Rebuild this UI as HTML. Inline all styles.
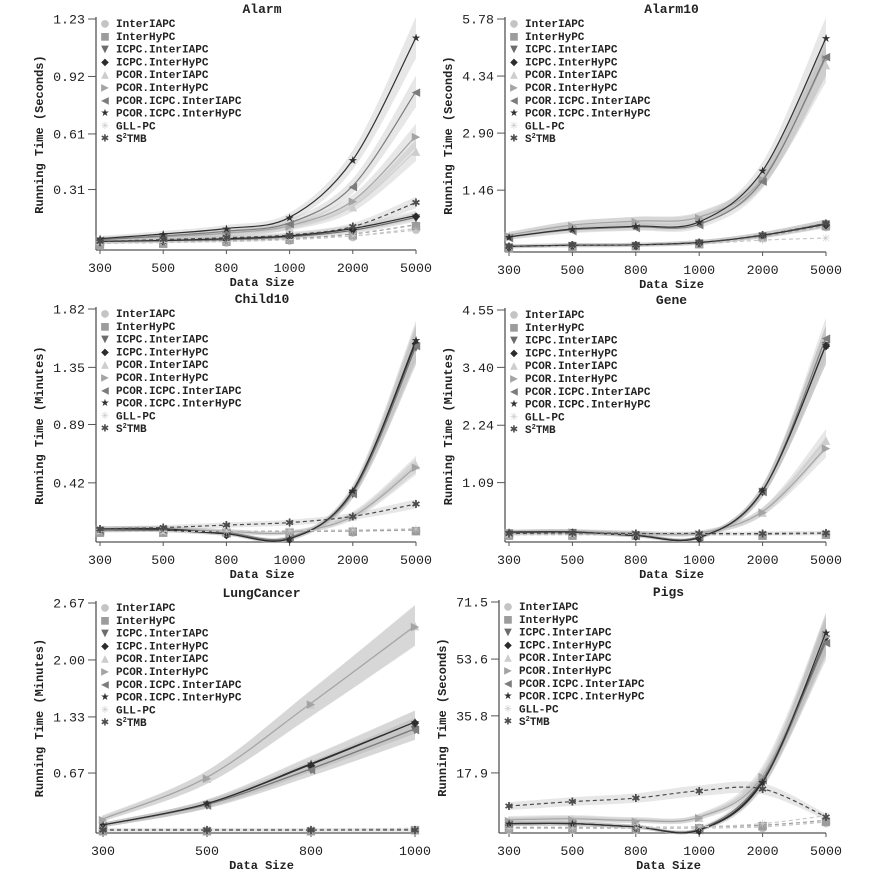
<!DOCTYPE html>
<html><head><meta charset="utf-8">
<style>
html,body{margin:0;padding:0;background:#fff;}
svg{display:block;}
text{font-family:"Liberation Mono","DejaVu Sans Mono",monospace;}
</style></head>
<body>
<svg id="chart" width="871" height="878" viewBox="0 0 871 878" xmlns="http://www.w3.org/2000/svg"></svg>
<script>
// ---- data ----
const seriesNames = ["InterIAPC","InterHyPC","ICPC.InterIAPC","ICPC.InterHyPC","PCOR.InterIAPC","PCOR.InterHyPC","PCOR.ICPC.InterIAPC","PCOR.ICPC.InterHyPC","GLL-PC","S2TMB"];
const xCats6 = ["300","500","800","1000","2000","5000"];
const xCats4 = ["300","500","800","1000"];

const alarmTicks = ["0.31","0.61","0.92","1.23"];
const alarmValues = [
 [0.02,0.025,0.03,0.04,0.06,0.10],
 [0.02,0.025,0.035,0.045,0.07,0.12],
 [0.03,0.035,0.04,0.055,0.09,0.16],
 [0.03,0.035,0.045,0.06,0.10,0.17],
 [0.04,0.05,0.07,0.11,0.22,0.52],
 [0.04,0.055,0.075,0.115,0.25,0.60],
 [0.04,0.06,0.085,0.13,0.33,0.84],
 [0.045,0.07,0.10,0.16,0.47,1.13],
 [0.02,0.025,0.03,0.04,0.06,0.09],
 [0.03,0.04,0.05,0.065,0.11,0.24]];

const alarm10Ticks = ["1.46","2.90","4.34","5.78"];
const alarm10Values = [
 [0.03,0.06,0.07,0.12,0.28,0.55],
 [0.03,0.06,0.07,0.13,0.30,0.58],
 [0.04,0.07,0.08,0.14,0.32,0.62],
 [0.04,0.07,0.08,0.14,0.32,0.60],
 [0.33,0.58,0.68,0.80,1.75,4.65],
 [0.33,0.58,0.68,0.78,1.75,4.80],
 [0.28,0.46,0.53,0.60,1.70,4.85],
 [0.28,0.48,0.55,0.66,1.95,5.30],
 [0.03,0.05,0.06,0.10,0.20,0.25],
 [0.04,0.07,0.08,0.14,0.33,0.62]];

const child10Ticks = ["0.42","0.89","1.35","1.82"];
const child10Values = [
 [0.03,0.03,0.03,0.03,0.03,0.04],
 [0.03,0.03,0.03,0.03,0.035,0.04],
 [0.04,0.04,0.01,-0.02,0.34,1.52],
 [0.04,0.04,0.01,-0.03,0.35,1.55],
 [0.05,0.05,0.03,0.02,0.16,0.57],
 [0.05,0.05,0.03,0.02,0.15,0.55],
 [0.04,0.05,0.02,-0.02,0.34,1.53],
 [0.05,0.05,0.01,-0.03,0.36,1.57],
 [0.03,0.03,0.03,0.035,0.04,0.05],
 [0.05,0.06,0.08,0.10,0.15,0.25]];

const geneTicks = ["1.09","2.24","3.40","4.55"];
const geneValues = [
 [0.05,0.05,0.05,0.05,0.05,0.07],
 [0.05,0.05,0.05,0.05,0.05,0.07],
 [0.09,0.10,0.04,0.0,0.92,3.85],
 [0.09,0.10,0.03,-0.01,0.93,3.85],
 [0.10,0.11,0.08,0.08,0.51,1.95],
 [0.10,0.11,0.08,0.08,0.51,1.79],
 [0.09,0.10,0.04,0.0,0.92,4.0],
 [0.10,0.10,0.03,-0.01,0.93,3.85],
 [0.05,0.06,0.06,0.06,0.07,0.09],
 [0.07,0.08,0.07,0.07,0.07,0.08]];

const lungTicks = ["0.67","1.33","2.00","2.67"];
const lungValues = [
 [0.0,0.0,0.0,0.01],
 [0.0,0.0,0.0,0.01],
 [0.06,0.30,0.72,1.19],
 [0.06,0.31,0.77,1.27],
 [0.14,0.62,1.49,2.41],
 [0.13,0.62,1.49,2.40],
 [0.06,0.30,0.72,1.19],
 [0.06,0.31,0.78,1.27],
 [0.01,0.01,0.01,0.02],
 [0.0,0.0,0.0,0.0]];

const pigsTicks = ["17.9","35.8","53.6","71.5"];
const pigsValues = [
 [0.5,0.5,0.5,0.6,1.0,2.5],
 [0.8,0.8,0.8,1.0,1.5,3.0],
 [2.0,2.0,1.0,0.2,15.0,60.0],
 [2.0,2.0,1.0,0.0,15.5,61.0],
 [3.5,3.8,3.2,4.2,18.0,62.0],
 [3.2,3.5,3.0,4.0,17.0,61.0],
 [2.0,2.0,1.0,0.3,16.0,59.0],
 [2.0,2.0,1.0,0.0,15.0,62.0],
 [0.5,0.6,0.7,1.0,2.0,4.5],
 [7.5,8.9,10.0,12.3,12.9,4.1]];

// ---- styles ----
const colors = ["#c4c4c4","#9c9c9c","#6c6c6c","#2c2c2c","#cdcdcd","#a4a4a4","#7c7c7c","#303030","#c8c8c8","#4c4c4c"];
const glyphs = ["●","■","▼","◆","▲","▶","◀","★","✳","✱"];
const dashed = [true,true,false,false,false,false,false,false,true,true];

const NS = "http://www.w3.org/2000/svg";
const svg = document.getElementById("chart");
function mk(tag, attrs, parent){ const e=document.createElementNS(NS,tag); for(const k in attrs) e.setAttribute(k,attrs[k]); (parent||svg).appendChild(e); return e; }

function smoothPath(pts){
  let d="M"+pts[0][0].toFixed(1)+","+pts[0][1].toFixed(1);
  for(let i=0;i<pts.length-1;i++){
    const p0=pts[i-1]||pts[i], p1=pts[i], p2=pts[i+1], p3=pts[i+2]||p2;
    const c1=[p1[0]+(p2[0]-p0[0])/6, p1[1]+(p2[1]-p0[1])/6];
    const c2=[p2[0]-(p3[0]-p1[0])/6, p2[1]-(p3[1]-p1[1])/6];
    d+=" C"+c1[0].toFixed(1)+","+c1[1].toFixed(1)+" "+c2[0].toFixed(1)+","+c2[1].toFixed(1)+" "+p2[0].toFixed(1)+","+p2[1].toFixed(1);
  }
  return d;
}

function panel(cfg){
  const g=mk("g",{});
  
  
  const yTopVal=parseFloat(cfg.ticks[cfg.ticks.length-1]);
  const ppu=(cfg.zeroY-cfg.topY)/yTopVal;
  const yS=v=>cfg.zeroY-v*ppu;
  const n=cfg.cats.length;
  const xS=i=>cfg.x0+(cfg.x1-cfg.x0)*i/(n-1);
  const t=mk("text",{x:(cfg.axisX+cfg.x1)/2+6,y:cfg.topY-6,"text-anchor":"middle","font-size":"13","font-weight":"bold",fill:"#222"},g);
  t.textContent=cfg.title;
  
  
  const ax=mk("line",{x1:cfg.axisX,y1:cfg.topY-2,x2:cfg.axisX,y2:cfg.bottomY,stroke:"#555","stroke-width":"1.3"},g);
  
  
  const bx=mk("line",{x1:cfg.axisX,y1:cfg.bottomY,x2:cfg.x1,y2:cfg.bottomY,stroke:"#555","stroke-width":"1.3"},g);
  
  
  cfg.ticks.forEach(tk=>{
    const y=yS(parseFloat(tk));
    mk("line",{x1:cfg.axisX-8,y1:y,x2:cfg.axisX,y2:y,stroke:"#555","stroke-width":"1"},g);
    const tl=mk("text",{x:cfg.axisX-11,y:y+4.5,"text-anchor":"end","font-size":"13.3",fill:"#222"},g);
    tl.textContent=tk;
    
    
  });
  cfg.cats.forEach((c,i)=>{
    const x=xS(i);
    mk("line",{x1:x,y1:cfg.bottomY,x2:x,y2:cfg.bottomY+4,stroke:"#555","stroke-width":"1"},g);
    const tl=mk("text",{x:x,y:cfg.bottomY+22,"text-anchor":"middle","font-size":"13.3",fill:"#222"},g);
    tl.textContent=c;
    
    
  });
  const xt=mk("text",{x:(cfg.axisX+cfg.x1)/2+6,y:cfg.bottomY+36,"text-anchor":"middle","font-size":"12","font-weight":"bold",fill:"#222"},g);
  xt.textContent="Data Size";
  
  
  const cy=(cfg.topY+cfg.bottomY)/2, cx=cfg.axisX-53;
  const yt=mk("text",{x:cx,y:cy,"text-anchor":"middle","font-size":"12","font-weight":"bold",fill:"#222",transform:"rotate(-90 "+cx+" "+cy+")"},g);
  yt.textContent="Running Time ("+cfg.unit+")";
  
  
  cfg.values.forEach((vals,s)=>{
    const big = !dashed[s] || s===9;
    if(!big) return;
    const up=vals.map((v,i)=>[xS(i),yS(v+Math.abs(v)*0.09+yTopVal*0.008)]);
    const lo=vals.map((v,i)=>[xS(i),yS(v-Math.abs(v)*0.09-yTopVal*0.008)]).reverse();
    const d=smoothPath(up)+" L"+smoothPath(lo).slice(1)+" Z";
    const b=mk("path",{d:d,fill:"#bbb","fill-opacity":"0.35",stroke:"none"},g);
    
    
  });
  cfg.values.forEach((vals,s)=>{
    const pts=vals.map((v,i)=>[xS(i),yS(v)]);
    const l=mk("path",{d:smoothPath(pts),fill:"none",stroke:colors[s],"stroke-width":"1.2","stroke-dasharray":dashed[s]?"4,3":"none"},g);
    
    
    pts.forEach(p=>{
      const m=mk("text",{x:p[0],y:p[1]+4,"text-anchor":"middle","font-size":"11",fill:colors[s],style:"font-family:'DejaVu Sans',sans-serif"},g);
      m.textContent=glyphs[s];
      
      
    });
  });
  seriesNames.forEach((nm,s)=>{
    const y=cfg.topY+4+s*12.8;
    const lm=mk("text",{x:cfg.axisX+9,y:y+3.5,"text-anchor":"middle","font-size":"10",fill:colors[s],style:"font-family:'DejaVu Sans',sans-serif"},g);
    lm.textContent=glyphs[s];
    
    
    const lt=mk("text",{x:cfg.axisX+20,y:y+4,"font-size":"11","font-weight":"bold",fill:"#222"},g);
    
    
    if(nm==="S2TMB"){ lt.innerHTML='S<tspan dy="-4" font-size="7">2</tspan><tspan dy="4">TMB</tspan>'; }
    else lt.textContent=nm;
  });
}

panel({name:"alarm",title:"Alarm",unit:"Seconds",ticks:alarmTicks,values:alarmValues,cats:xCats6,axisX:96,x0:100,x1:416,topY:19,zeroY:247,bottomY:250});
panel({name:"alarm10",title:"Alarm10",unit:"Seconds",ticks:alarm10Ticks,values:alarm10Values,cats:xCats6,axisX:505,x0:509,x1:826,topY:19,zeroY:248,bottomY:252});
panel({name:"child10",title:"Child10",unit:"Minutes",ticks:child10Ticks,values:child10Values,cats:xCats6,axisX:96,x0:100,x1:416,topY:309,zeroY:535,bottomY:542});
panel({name:"gene",title:"Gene",unit:"Minutes",ticks:geneTicks,values:geneValues,cats:xCats6,axisX:505,x0:509,x1:826,topY:310,zeroY:537,bottomY:542});
panel({name:"lungcancer",title:"LungCancer",unit:"Minutes",ticks:lungTicks,values:lungValues,cats:xCats4,axisX:96,x0:103,x1:415,topY:603,zeroY:830,bottomY:833});
panel({name:"pigs",title:"Pigs",unit:"Seconds",ticks:pigsTicks,values:pigsValues,cats:xCats6,axisX:499,x0:509,x1:826,topY:602,zeroY:830,bottomY:833});
</script>
</body></html>
